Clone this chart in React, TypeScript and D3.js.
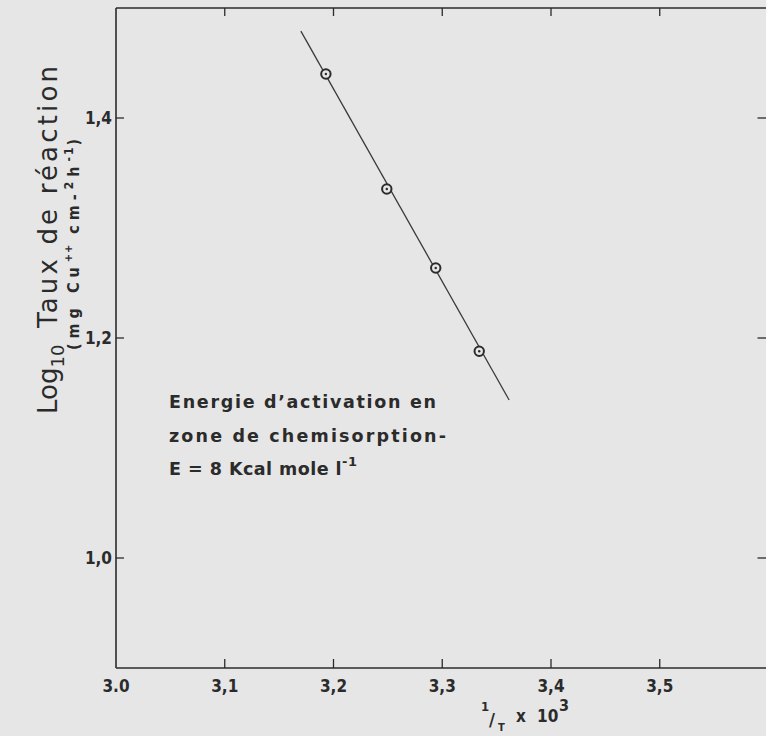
import React from 'react';
import * as d3 from 'd3';

// ---- data ----
const xTicks = [3.0, 3.1, 3.2, 3.3, 3.4, 3.5];
const xTickLabels = ['3.0', '3,1', '3,2', '3,3', '3,4', '3,5'];
const yTicks = [1.0, 1.2, 1.4];
const yTickLabels = ['1,0', '1,2', '1,4'];
const invT = [3.193, 3.249, 3.294, 3.334];
const logRate = [1.44, 1.3355, 1.2636, 1.188];
const fitInvT = [3.17, 3.3615];
const fitLogRate = [1.479, 1.1436];

const W = 766;
const H = 736;
const INK = '#2b2b2b';
const BG = '#e6e6e6';
const FONT = '"DejaVu Sans", sans-serif';
const FONTC = '"DejaVu Sans Condensed", "DejaVu Sans", sans-serif';

export default function App() {
  const x = d3.scaleLinear().domain([3.0, 3.6]).range([116, 768.5]);
  const y = d3.scaleLinear().domain([0.9, 1.5]).range([668, 8]);
  const [x0, x1] = x.range();
  const [yb, yt] = y.range();
  const line = d3
    .line<number>()
    .x((_, i) => x(fitInvT[i]))
    .y((d) => y(d));
  const fitPath = line(fitLogRate) || '';

  return (
    <svg
      width={W}
      height={H}
      viewBox={`0 0 ${W} ${H}`}
      style={{ position: 'absolute', left: 0, top: 0, background: BG }}
    >
      <rect x={0} y={0} width={W} height={H} fill={BG} />
      {/* frame */}
      <g stroke={INK} strokeWidth={1.6} fill="none">
        <line x1={x0} y1={yb} x2={x1} y2={yb} />
        <line x1={x0} y1={yt} x2={x1} y2={yt} />
        <line x1={x0} y1={yt} x2={x0} y2={yb} />
        <line x1={x1} y1={yt} x2={x1} y2={yb} />
      </g>
      {/* ticks */}
      <g stroke={INK} strokeWidth={1.3}>
        {xTicks.map((t) =>
          t === 3.0 ? null : (
            <g key={t}>
              <line x1={x(t)} x2={x(t)} y1={yb} y2={yb - 9} />
              <line x1={x(t)} x2={x(t)} y1={yt} y2={yt + 8} />
            </g>
          )
        )}
        {yTicks.map((t) => (
          <g key={t}>
            <line x1={x0} x2={x0 + 8} y1={y(t)} y2={y(t)} />
            <line x1={x1} x2={x1 - 11} y1={y(t)} y2={y(t)} />
          </g>
        ))}
      </g>
      {/* tick labels */}
      <g fill={INK} fontFamily={FONTC} fontWeight={700} fontSize={17}>
        {xTicks.map((t, i) => (
          <text key={t} x={x(t)} y={692} textAnchor="middle">
            {xTickLabels[i]}
          </text>
        ))}
        {yTicks.map((t, i) => (
          <text key={t} x={112} y={y(t) + 6} textAnchor="end">
            {yTickLabels[i]}
          </text>
        ))}
      </g>
      {/* x axis title */}
      <g fill={INK} fontFamily={FONTC} fontWeight={700}>
        <text x={481} y={711} fontSize={13}>1</text>
        <text x={489} y={726} fontSize={18}>/</text>
        <text x={498} y={731} fontSize={11}>T</text>
        <text x={516} y={722} fontSize={17}>x</text>
        <text x={537} y={722} fontSize={17}>10</text>
        <text x={559} y={711} fontSize={16}>3</text>
      </g>
      {/* y axis title */}
      <g fill={INK} fontFamily={FONT}>
        <text transform={`translate(57,414) rotate(-90)`} fontSize={26}>
          Log
          <tspan fontSize={18} dy={7}>10</tspan>
        </text>
        <text
          transform={`translate(57,328) rotate(-90)`}
          fontSize={26}
          textLength={262}
          lengthAdjust="spacing"
        >
          Taux de réaction
        </text>
        <text
          transform={`translate(79,350) rotate(-90)`}
          fontSize={16}
          fontFamily={FONTC}
          fontWeight={700}
          letterSpacing={5}
        >
          <tspan>(mg Cu</tspan>
          <tspan fontSize={11} dy={-7} letterSpacing={1}>++</tspan>
          <tspan dy={7}> cm-</tspan>
          <tspan fontSize={12} dy={-6}>2</tspan>
          <tspan dy={6}>h</tspan>
          <tspan fontSize={12} dy={-6} letterSpacing={2}>-1</tspan>
          <tspan dy={6}>)</tspan>
        </text>
      </g>
      {/* fit line */}
      <path d={fitPath} fill="none" stroke="#3a3a3a" strokeWidth={1.3} />
      {/* points */}
      <g>
        {invT.map((v, i) => (
          <g key={i}>
            <circle cx={x(v)} cy={y(logRate[i])} r={4.7} fill={BG} stroke={INK} strokeWidth={2} />
            <circle cx={x(v)} cy={y(logRate[i])} r={1.2} fill={INK} />
          </g>
        ))}
      </g>
      {/* annotation */}
      <g fill={INK} fontFamily={FONT} fontWeight={700} fontSize={17.5}>
        <text x={169} y={408} textLength={267} lengthAdjust="spacing">
          Energie d’activation en
        </text>
        <text x={169} y={442} textLength={277} lengthAdjust="spacing">
          zone de chemisorption-
        </text>
        <text x={169} y={475} textLength={188} lengthAdjust="spacing">
          <tspan>E = 8 Kcal mole l</tspan>
          <tspan fontSize={13} dy={-9}>-1</tspan>
        </text>
      </g>
    </svg>
  );
}
